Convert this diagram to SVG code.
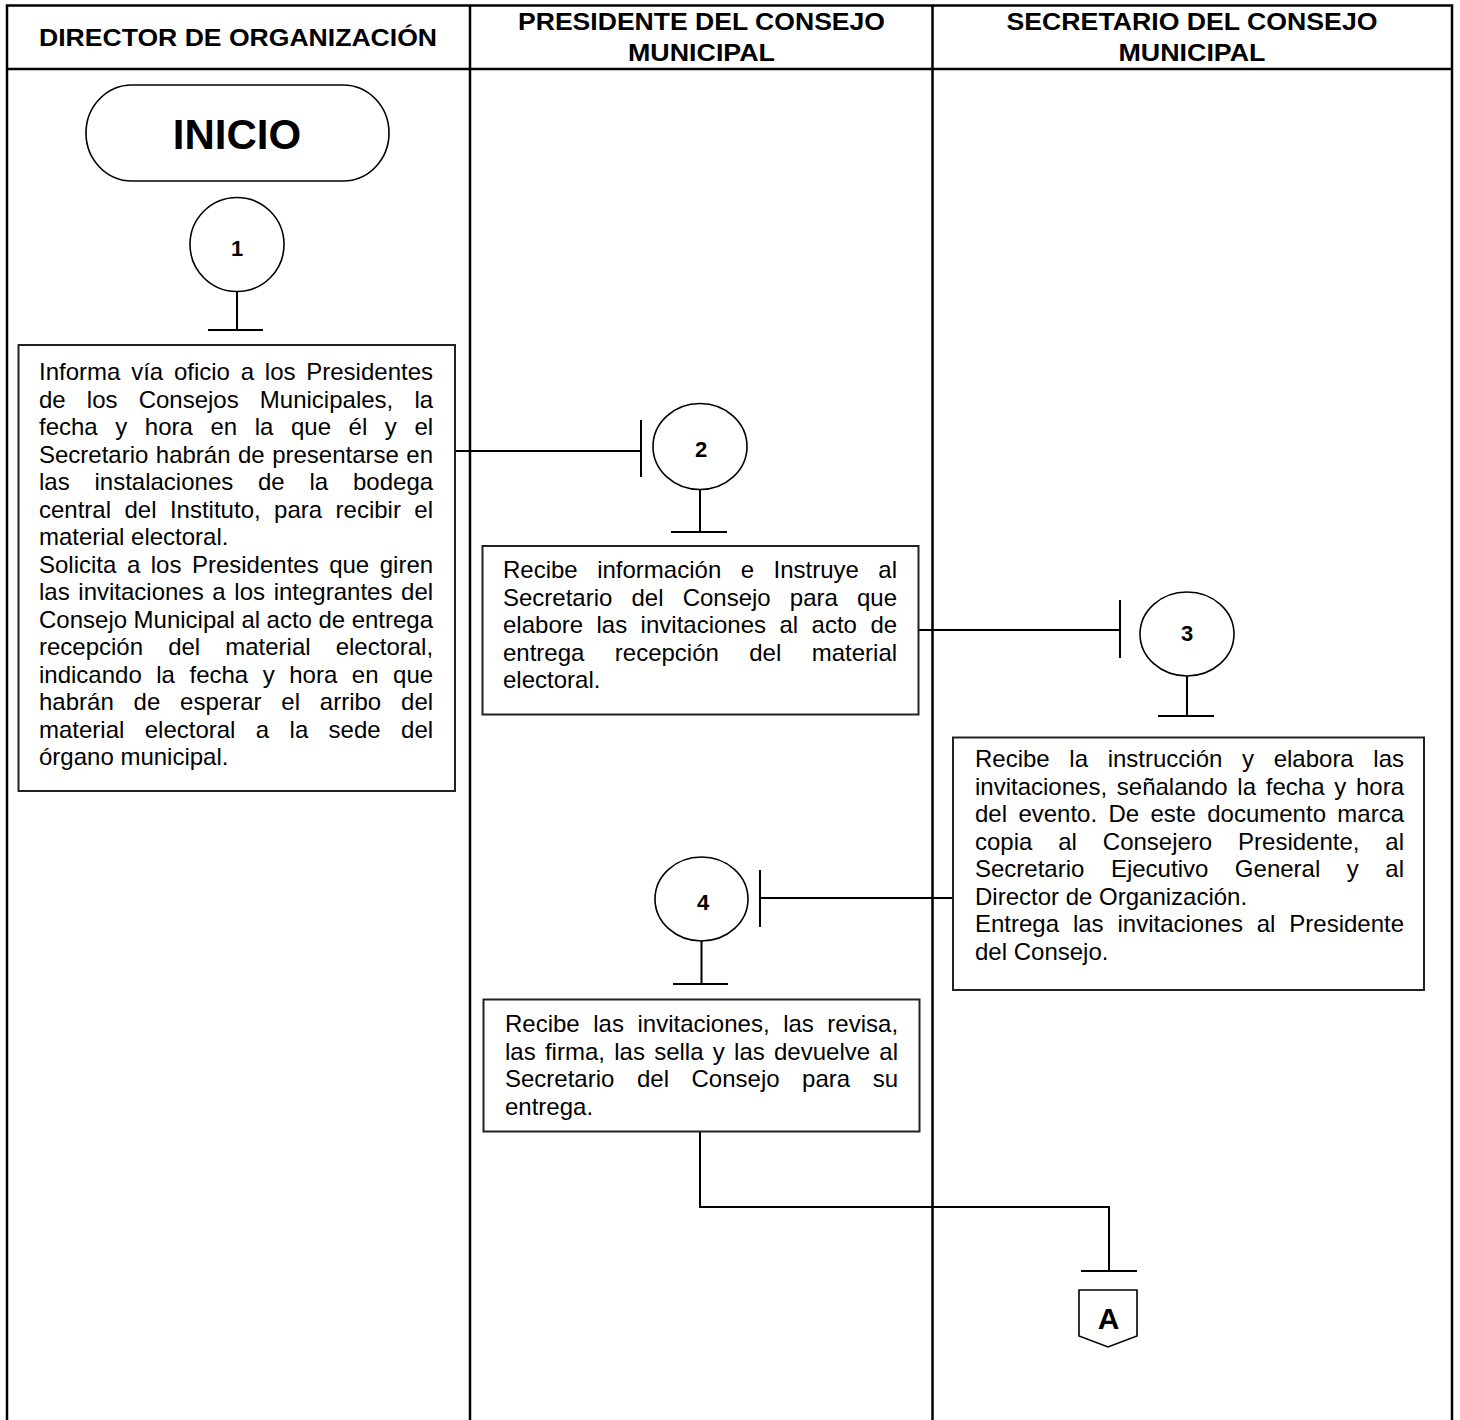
<svg xmlns="http://www.w3.org/2000/svg" width="1460" height="1420" viewBox="0 0 1460 1420">
<style>
.lane{stroke:#000;stroke-width:2.5;fill:none}
.hdr{font-family:"Liberation Sans",Arial,sans-serif;font-weight:bold;font-size:23px;fill:#000;text-anchor:middle}
.box{fill:#fff;stroke:#222;stroke-width:2}
.circ{fill:#fff;stroke:#000;stroke-width:1.6}
.num{font-family:"Liberation Sans",Arial,sans-serif;font-weight:bold;font-size:22px;fill:#000;text-anchor:middle}
.txt{font-family:"Liberation Sans",Arial,sans-serif;font-size:24px;fill:#000;font-kerning:none}
.con{stroke:#000;stroke-width:2;fill:none}
</style>
<rect width="1460" height="1420" fill="#fff"/>
<g id="lanes">
<path class="lane" d="M7,1420 V5.5 H1452 V1420 M7,69 H1452 M470,5.5 V1420 M932.5,5.5 V1420"/>
<text class="hdr" x="238" y="45.5" textLength="398" lengthAdjust="spacingAndGlyphs">DIRECTOR DE ORGANIZACIÓN</text>
<text class="hdr" x="701.5" y="29.5" textLength="367" lengthAdjust="spacingAndGlyphs">PRESIDENTE DEL CONSEJO</text>
<text class="hdr" x="701.5" y="60.5" textLength="147" lengthAdjust="spacingAndGlyphs">MUNICIPAL</text>
<text class="hdr" x="1192" y="29.5" textLength="371" lengthAdjust="spacingAndGlyphs">SECRETARIO DEL CONSEJO</text>
<text class="hdr" x="1192" y="60.5" textLength="147" lengthAdjust="spacingAndGlyphs">MUNICIPAL</text>
</g>
<g id="connectors">
<path class="con" d="M237,292 V330 M208,330 H263"/>
<path class="con" d="M455,451 H641 M641,420 V477"/>
<path class="con" d="M700,489 V532 M671,532 H727"/>
<path class="con" d="M918,630 H1120 M1120,600 V658"/>
<path class="con" d="M1187,676 V716 M1158,716 H1214"/>
<path class="con" d="M953,898 H760 M760,870 V927"/>
<path class="con" d="M701.5,941 V984 M673,984 H728"/>
<path class="con" d="M700,1132 V1207 H1109 V1271 M1081,1271 H1137"/>
</g>
<g id="inicio">
<rect class="circ" x="86" y="85" width="303" height="96" rx="46" ry="48"/>
<text class="num" x="237" y="149" style="font-size:42px">INICIO</text>
</g>
<g id="c1">
<ellipse class="circ" cx="237" cy="244.5" rx="47" ry="47"/>
<text class="num" x="237" y="256">1</text>
</g>
<g id="box1">
<rect class="box" x="18.5" y="345" width="436.5" height="446"/>
<text class="txt" x="39">
<tspan x="39" y="380" word-spacing="4.10">Informa vía oficio a los Presidentes</tspan>
<tspan x="39" y="407.5" word-spacing="14.47">de los Consejos Municipales, la</tspan>
<tspan x="39" y="435" word-spacing="10.90">fecha y hora en la que él y el</tspan>
<tspan x="39" y="462.5" word-spacing="0.78">Secretario habrán de presentarse en</tspan>
<tspan x="39" y="490" word-spacing="18.13">las instalaciones de la bodega</tspan>
<tspan x="39" y="517.5" word-spacing="6.77">central del Instituto, para recibir el</tspan>
<tspan x="39" y="545" word-spacing="0">material electoral.</tspan>
<tspan x="39" y="572.5" word-spacing="3.84">Solicita a los Presidentes que giren</tspan>
<tspan x="39" y="600" word-spacing="1.97">las invitaciones a los integrantes del</tspan>
<tspan x="39" y="627.5" word-spacing="-0.17">Consejo Municipal al acto de entrega</tspan>
<tspan x="39" y="655" word-spacing="18.41">recepción del material electoral,</tspan>
<tspan x="39" y="682.5" word-spacing="7.86">indicando la fecha y hora en que</tspan>
<tspan x="39" y="710" word-spacing="13.17">habrán de esperar el arribo del</tspan>
<tspan x="39" y="737.5" word-spacing="13.71">material electoral a la sede del</tspan>
<tspan x="39" y="765" word-spacing="0">órgano municipal.</tspan>
</text>
</g>
<g id="c2">
<ellipse class="circ" cx="700" cy="446.5" rx="47" ry="43"/>
<text class="num" x="701" y="457">2</text>
</g>
<g id="box2">
<rect class="box" x="482.5" y="546" width="436" height="168.5"/>
<text class="txt">
<tspan x="503" y="578" word-spacing="12.80">Recibe información e Instruye al</tspan>
<tspan x="503" y="605.5" word-spacing="12.46">Secretario del Consejo para que</tspan>
<tspan x="503" y="633" word-spacing="6.77">elabore las invitaciones al acto de</tspan>
<tspan x="503" y="660.5" word-spacing="23.74">entrega recepción del material</tspan>
<tspan x="503" y="688" word-spacing="0">electoral.</tspan>
</text>
</g>
<g id="c3">
<ellipse class="circ" cx="1187" cy="634" rx="47" ry="42"/>
<text class="num" x="1187" y="641">3</text>
</g>
<g id="box3">
<rect class="box" x="953" y="737.5" width="471" height="252.5"/>
<text class="txt">
<tspan x="975" y="767" word-spacing="12.97">Recibe la instrucción y elabora las</tspan>
<tspan x="975" y="794.5" word-spacing="3.09">invitaciones, señalando la fecha y hora</tspan>
<tspan x="975" y="822" word-spacing="4.69">del evento. De este documento marca</tspan>
<tspan x="975" y="849.5" word-spacing="19.21">copia al Consejero Presidente, al</tspan>
<tspan x="975" y="877" word-spacing="19.88">Secretario Ejecutivo General y al</tspan>
<tspan x="975" y="904.5" word-spacing="0">Director de Organización.</tspan>
<tspan x="975" y="932" word-spacing="7.21">Entrega las invitaciones al Presidente</tspan>
<tspan x="975" y="959.5" word-spacing="0">del Consejo.</tspan>
</text>
</g>
<g id="c4">
<ellipse class="circ" cx="701.5" cy="899" rx="46.5" ry="42"/>
<text class="num" x="703" y="910">4</text>
</g>
<g id="box4">
<rect class="box" x="483.5" y="999.5" width="436" height="132"/>
<text class="txt">
<tspan x="505" y="1032" word-spacing="6.89">Recibe las invitaciones, las revisa,</tspan>
<tspan x="505" y="1059.5" word-spacing="2.60">las firma, las sella y las devuelve al</tspan>
<tspan x="505" y="1087" word-spacing="15.88">Secretario del Consejo para su</tspan>
<tspan x="505" y="1114.5" word-spacing="0">entrega.</tspan>
</text>
</g>
<g id="connA">
<polygon class="circ" points="1079,1290 1137,1290 1137,1336 1108,1347 1079,1336"/>
<text class="num" x="1108.5" y="1329" style="font-size:30px">A</text>
</g>
</svg>
